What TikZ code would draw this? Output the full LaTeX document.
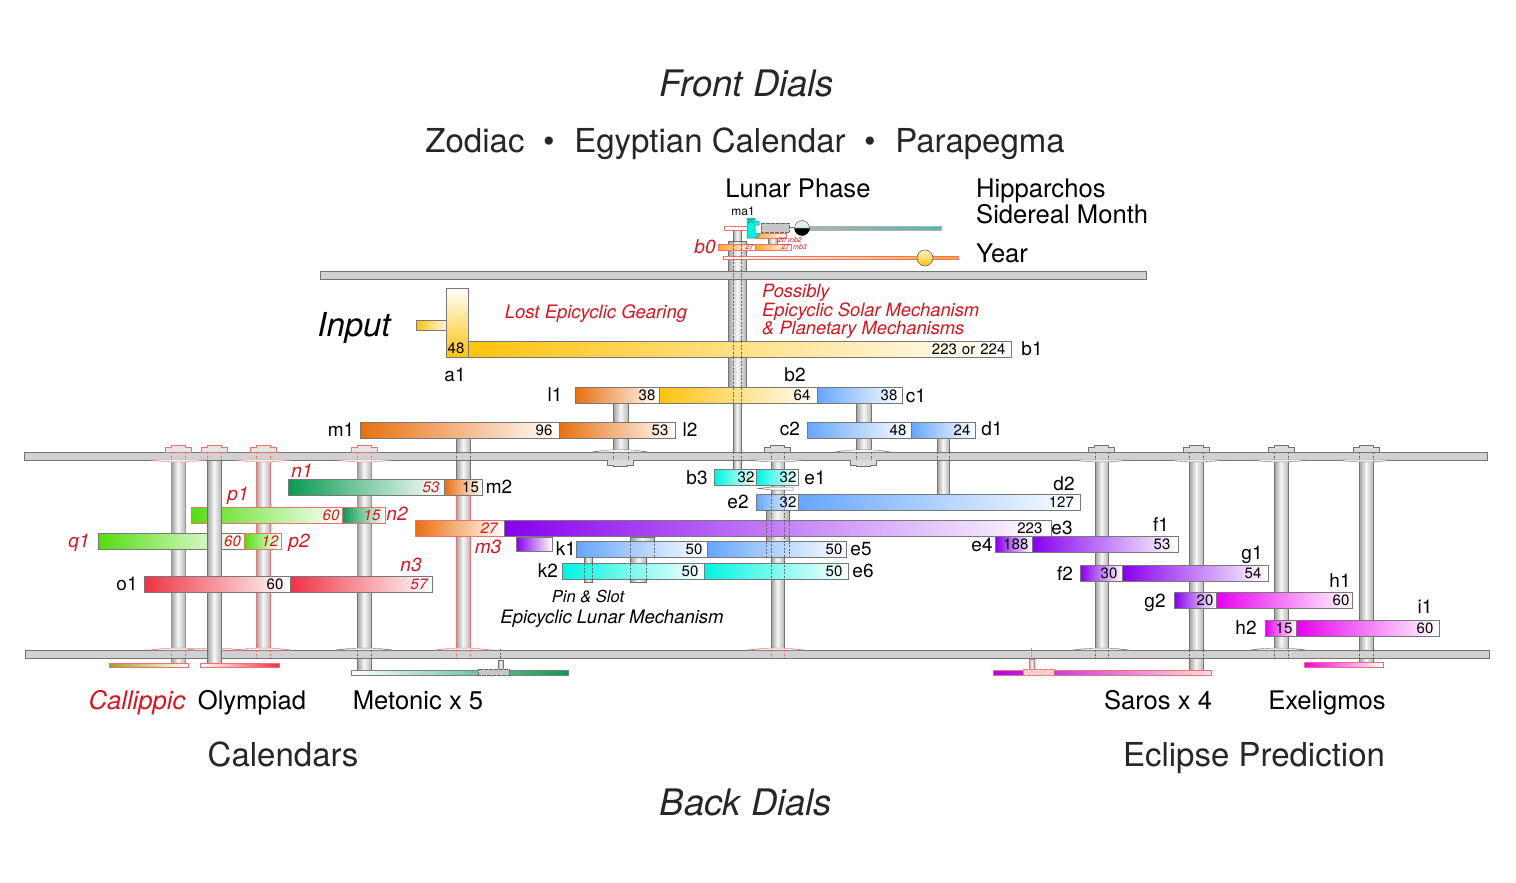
\documentclass[tikz,border=0pt]{standalone}
\usepackage{fontspec}
\setmainfont{TeX Gyre Heros}
\definecolor{gearorange}{HTML}{E8700F}
\definecolor{gearyellow}{HTML}{FFC20E}
\definecolor{gearblue}{HTML}{66A6FF}
\definecolor{gearcyan}{HTML}{00F5E0}
\definecolor{gearpurple}{HTML}{8800EE}
\definecolor{gearmagenta}{HTML}{E800F0}
\definecolor{geardgreen}{HTML}{0A9A50}
\definecolor{gearlgreen}{HTML}{55DD11}
\definecolor{gearred}{HTML}{EE3344}
\definecolor{redtext}{HTML}{D8141E}
\definecolor{edge}{HTML}{77777C}
\definecolor{rededge}{HTML}{EE7070}
\definecolor{rodteal}{HTML}{4FB8B0}
\definecolor{rodamber}{HTML}{FFA52A}
\definecolor{rodolive}{HTML}{9BA81E}
\tikzset{
  gear/.style n args={3}{anchor=west, rectangle, draw=edge, line width=0.7pt, minimum width=#1, minimum height=16, text width=#1-2*#3, inner xsep=0, inner ysep=0, align=right, text height=10.5, text depth=0, left color=#2, right color=white, font=\fontsize{15}{15}\selectfont, text=black},
  gearr/.style n args={3}{gear={#1}{#2}{#3}, draw=rededge, text=redtext, font=\fontsize{15}{15}\selectfont\itshape},
  lab/.style={font=\fontsize{19}{19}\selectfont, inner sep=0},
  labr/.style={font=\fontsize{19}{19}\selectfont\itshape, text=redtext, inner sep=0},
  dial/.style={font=\fontsize{25.6}{25.6}\selectfont, inner sep=0, anchor=base},
  head/.style={font=\fontsize{33}{33}\selectfont, text=black!85, inner sep=0, anchor=base},
  title/.style={font=\fontsize{36.5}{36.5}\selectfont\itshape, text=black!85, inner sep=0, anchor=base},
  note/.style={font=\fontsize{18.5}{18.5}\selectfont\itshape, inner sep=0, anchor=base},
  tiny/.style={font=\fontsize{7}{7}\selectfont\itshape, text=redtext, inner sep=0},
  plate/.style={draw=black!55, line width=0.7pt, fill=black!18},
  shaft/.style={draw=black!55, line width=0.6pt, left color=black!38, right color=black!28, middle color=black!3},
  shaftr/.style={shaft, draw=rededge},
  hidden/.style={draw=black!60, line width=0.5pt, dash pattern=on 2pt off 1.5pt},
  hiddenr/.style={draw=rededge, line width=0.5pt, dash pattern=on 2pt off 1.5pt},
  capg/.style={draw=black!55, line width=0.6pt, fill=black!14},
  capr/.style={draw=rededge, line width=0.6pt, fill=black!10},
  dialbar/.style={line width=0.6pt}
}
% lens under or over a plate, cap on top of a plate
\newcommand{\lens}[4]{\draw [#4, fill=white] (#1-28,#2) .. controls (#1-12,#2+#3) and (#1+12,#2+#3) .. (#1+28,#2) -- cycle;}
\newcommand{\capon}[2]{\draw [#2] (#1-13,452) -- (#1-13,447) -- (#1-7,447) -- (#1-7,445) -- (#1+7,445) -- (#1+7,447) -- (#1+13,447) -- (#1+13,452) -- cycle;}
\newcommand{\boss}[1]{\draw [capg] (#1-13,460) -- (#1-13,465) -- (#1-7,465) -- (#1-7,466.5) -- (#1+7,466.5) -- (#1+7,465) -- (#1+13,465) -- (#1+13,460);}
\newcommand{\through}[5]{\draw [#5] (#1,#3) -- (#1,#4); \draw [#5] (#2,#3) -- (#2,#4);}
\begin{document}
\begin{tikzpicture}[x=1pt,y=-1pt]
\useasboundingbox [fill=white] (0,0) rectangle (1516,883);

% shafts behind the gears
\draw [shaft] (733,230) rectangle (741,241);
\draw [shaft] (728,241) rectangle (746,341);
\draw [shaft] (728,357) rectangle (746,388);
\draw [shaft] (733,403) rectangle (741,470);
\draw [shaftr] (171,460) rectangle (185,664);
\draw [shaftr] (256,460) rectangle (270,650);
\draw [shaftr] (357,460) rectangle (371,580);
\draw [shaft] (357,580) rectangle (371,671);
\draw [shaft] (456,437) rectangle (470,480);
\draw [shaftr] (456,495) rectangle (470,650);
\draw [shaft] (613,403) rectangle (628,460);
\draw [shaft] (856,403) rectangle (871,460);
\draw [shaft] (937,437) rectangle (949,495);
\draw [shaft] (771,460) rectangle (784,650);
\draw [shaft] (766,510) rectangle (789,542);
\draw [shaft] (1095,460) rectangle (1108,650);
\draw [shaft] (1189,460) rectangle (1203,671);
\draw [shaft] (1274,460) rectangle (1288,650);
\draw [shaft] (1359,460) rectangle (1373,663);

% plates
\draw [plate] (320,271) rectangle (1146,279);
\draw [plate] (24,452) rectangle (1487,460);
\draw [plate] (25,650) rectangle (1489,658);

% caps and lenses
\capon{178}{capr}
\capon{214}{capr}
\capon{263}{capr}
\capon{364}{capr}
\capon{777}{capg}
\capon{1101}{capg}
\capon{1196}{capg}
\capon{1281}{capg}
\capon{1366}{capg}
\lens{178}{460}{2.5}{draw=rededge}
\lens{263}{460}{2.5}{draw=rededge}
\lens{364}{460}{2.5}{draw=rededge}
\lens{620}{452}{-3}{draw=black!55}
\lens{863}{452}{-3}{draw=black!55}
\lens{777}{460}{2.5}{draw=black!55}
\lens{1101}{460}{2.5}{draw=black!55}
\lens{1196}{460}{2.5}{draw=black!55}
\lens{1280}{460}{2.5}{draw=black!55}
\lens{1365}{460}{2.5}{draw=black!55}
\lens{178}{650}{-2.5}{draw=rededge}
\lens{214}{650}{-2.5}{draw=rededge}
\lens{263}{650}{-2.5}{draw=rededge}
\lens{364}{650}{-2.5}{draw=black!55}
\lens{463}{650}{-2.5}{draw=rededge}
\lens{776}{650}{-2.5}{draw=rededge}
\lens{1101}{650}{-2.5}{draw=black!55}
\lens{1278}{650}{-2.5}{draw=black!55}
\boss{620}
\boss{863}
\through{171}{185}{452}{460}{hiddenr}
\through{207}{221}{452}{460}{hiddenr}
\through{256}{270}{452}{460}{hiddenr}
\through{357}{371}{452}{460}{hiddenr}
\through{456}{470}{452}{460}{hidden}
\through{613}{628}{452}{460}{hidden}
\through{856}{871}{452}{460}{hidden}
\through{937}{949}{452}{460}{hidden}
\through{733}{741}{452}{470}{hidden}
\through{771}{784}{452}{460}{hidden}
\through{1095}{1108}{452}{460}{hidden}
\through{1189}{1203}{452}{460}{hidden}
\through{1274}{1288}{452}{460}{hidden}
\through{1359}{1373}{452}{460}{hidden}
\through{171}{185}{650}{658}{hiddenr}
\through{207}{221}{650}{658}{hidden}
\through{256}{270}{650}{658}{hiddenr}
\through{357}{371}{650}{658}{hidden}
\through{456}{470}{650}{658}{hiddenr}
\through{771}{784}{650}{658}{hiddenr}
\through{1095}{1108}{650}{658}{hidden}
\through{1189}{1203}{650}{658}{hidden}
\through{1274}{1288}{650}{658}{hidden}
\through{1359}{1373}{650}{658}{hidden}

% front mechanism
\draw [shaft] (768,238) rectangle (777,244);
\draw [dialbar, draw=rededge, fill=white] (724,226) rectangle (747,230);
\draw [dialbar, draw=black!30, left color=black!30, right color=rodteal] (808,226) rectangle (941,230);
\node [gearr={37}{rodamber}{2}, minimum height=6, text height=4, font=\fontsize{7}{7}\selectfont\itshape] at (718,247) (b0a) {27};
\node [gearr={36}{rodamber}{2}, minimum height=6, text height=4, font=\fontsize{7}{7}\selectfont\itshape] at (755,247) (b0b) {27};
\node [gearr={31}{rodamber}{1}, minimum height=5, text height=3] at (755,235.5) (mbtwo) {};
\draw [dialbar, draw=rededge, left color=white, right color=rodamber] (723,256) rectangle (958,259.5);
\draw [draw=black!60, line width=0.5pt, fill=gearcyan] (747,218) -- (755,218) -- (755,221) -- (759,221) -- (759,225) -- (755,225) -- (755,233) -- (759,233) -- (759,236) -- (755,238) -- (747,238) -- cycle;
\draw [draw=black!60, line width=0.6pt, fill=black!22, dash pattern=on 2pt off 0.5pt] (761,223) rectangle (789,232);
\draw [draw=black!60, line width=0.6pt] (789,227.5) -- (794,227.5);
\draw [draw=black, line width=0.5pt, fill=black] (794.5,228) arc (180:0:7.5) -- cycle;
\draw [draw=black!60, line width=0.5pt, fill=rodteal!20] (794.5,228) arc (180:360:7.5) -- cycle;
\node [circle, draw=black!60, line width=0.6pt, minimum size=16, inner sep=0, top color=gearyellow!25, bottom color=gearyellow] at (925,258) (sunball) {};
\node [font=\fontsize{6}{6}\selectfont, text=black!70, inner sep=0] at (751,221) (matwenty) {20};
\node [tiny] at (782,240) (numtwenty) {20};
\node [tiny] at (795,240) (mbb) {mb2};
\node [tiny] at (800,247) (mbc) {mb3};

% input and main drive
\node [rectangle, draw=edge, line width=0.7pt, minimum width=30, minimum height=10, inner sep=0, left color=gearyellow, right color=gearyellow!15] at (431,325) (stub) {};
\node [gear={22}{white}{2}, minimum height=69, top color=white, bottom color=gearyellow] at (446,322.5) (aone) {};
\node [gear={543}{gearyellow}{6}] at (468,349) (bone) {223 or 224};
\node [gear={84}{gearorange}{4}] at (575,395.5) (lone) {38};
\node [gear={158}{gearyellow}{7}] at (659,395.5) (btwo) {64};
\node [gear={85}{gearblue}{5}] at (817,395.5) (cone) {38};
\node [gear={199}{gearorange}{7}] at (360,430) (mone) {96};
\node [gear={116}{gearorange}{7}] at (559,430) (ltwo) {53};
\node [gear={104}{gearblue}{5}] at (807,430) (ctwo) {48};
\node [gear={64}{gearblue}{5}] at (911,430) (done) {24};
\node [font=\fontsize{15}{15}\selectfont, inner sep=0] at (456,348) (aonenum) {48};
\through{733}{741}{341}{357}{hidden}
\through{733}{741}{388}{403}{hidden}
\through{733}{741}{241}{341}{hidden}
\through{733}{741}{357}{388}{hidden}

% calendar gears
\node [gear={156}{geardgreen}{5}, text=redtext, font=\fontsize{15}{15}\selectfont\itshape] at (288,487.5) (none) {53};
\node [gear={38}{gearorange}{3.5}] at (444,487.5) (mtwo) {15};
\node [gearr={151}{gearlgreen}{3}] at (191,515) (pone) {60};
\node [gearr={43}{geardgreen}{5}] at (342,515) (ntwo) {15};
\node [gear={146}{gearlgreen}{3.5}, text=redtext, font=\fontsize{15}{15}\selectfont\itshape] at (98,541.5) (qone) {60};
\node [gearr={37}{gearlgreen}{3}] at (244,541.5) (ptwo) {12};
\draw [shaft] (207,460) rectangle (221,663);
\node [gear={146}{gearred}{7}] at (144,584.5) (oone) {60};
\node [gear={142}{gearred}{5}, text=redtext, font=\fontsize{15}{15}\selectfont\itshape] at (290,584.5) (nthree) {57};

% lunar gears
\node [gear={42}{gearcyan}{2}] at (714,477) (bthree) {32};
\node [gear={42}{gearcyan}{2}] at (756,477) (eone) {32};
\draw [draw=black!55, line width=0.5pt, fill=white] (758,488.5) -- (772,487) -- (793,487) -- (793,490) -- (772,490) -- cycle;
\node [gear={42}{gearblue}{2}] at (756,502.5) (etwo) {32};
\node [gear={282}{gearblue}{6.5}] at (798,502.5) (dtwo) {127};
\node [gearr={89}{gearorange}{7}] at (415,528.5) (mthree) {27};
\node [gear={547}{gearpurple}{9}] at (504,528.5) (ethree) {223};
\node [gear={36}{gearpurple}{2}, minimum height=14] at (516,544) (mfour) {};
\draw [shaft] (630,537) rectangle (654,542);
\draw [shaft] (584,557) rectangle (592,582);
\draw [shaft] (630,557) rectangle (646,582);
\node [gear={131}{gearblue}{5}] at (576,549.5) (kone) {50};
\node [gear={139}{gearblue}{4}] at (707,549.5) (efive) {50};
\node [gear={142}{gearcyan}{6}] at (562,571) (ktwo) {50};
\node [gear={144}{gearcyan}{6}] at (704,571) (esix) {50};
\through{771}{784}{495}{579}{hidden}
\through{766}{789}{510}{557}{hidden}
\through{630}{654}{537}{557}{hidden}
\through{584}{592}{557}{582}{hidden}
\through{630}{646}{557}{582}{hidden}

% eclipse gears
\node [gear={37}{gearpurple}{4}] at (995,544.5) (efour) {188};
\node [gear={146}{gearpurple}{8}] at (1032,544.5) (fone) {53};
\node [gear={42}{gearpurple}{5}] at (1080,573.5) (ftwo) {30};
\node [gear={146}{gearpurple}{7}] at (1122,573.5) (gone) {54};
\node [gear={42}{gearpurple}{3}] at (1174,600.5) (gtwo) {20};
\node [gear={136}{gearmagenta}{3}] at (1216,600.5) (hone) {60};
\node [gear={31}{gearmagenta}{4}] at (1265,628) (htwo) {15};
\node [gear={143}{gearmagenta}{6}] at (1296,628) (ione) {60};

% back dials
\draw [dialbar, draw=rededge, left color=rodolive, right color=white] (109,663) rectangle (188,667);
\draw [dialbar, draw=rededge, left color=white, right color=gearred] (200,663) rectangle (279,667);
\draw [dialbar, draw=black!50, left color=white, right color=geardgreen] (351,670) rectangle (568,675);
\draw [shaft] (498,660) rectangle (503,669);
\draw [draw=black!60, line width=0.5pt, fill=black!22, dash pattern=on 2pt off 0.5pt] (478,669) rectangle (509,675.5);
\draw [hidden] (500.5,649) -- (500.5,660);
\draw [dialbar, draw=rededge, left color=gearpurple!60!gearmagenta, right color=pink!60] (993,670) rectangle (1211,675);
\draw [shaftr] (1029,659) rectangle (1034,669);
\draw [draw=rededge, line width=0.6pt, fill=red!20, dash pattern=on 2pt off 0.5pt] (1023,669) rectangle (1054,675.5);
\draw [hiddenr] (1031.5,648) -- (1031.5,659);
\draw [dialbar, draw=rededge, left color=gearmagenta, right color=white] (1304,662.5) rectangle (1383,667);

% gear names
\node [lab] at (455,375) (laba) {a1};
\node [lab] at (1032,349) (labb) {b1};
\node [lab] at (555,395) (labl) {l1};
\node [lab] at (795,375) (labbt) {b2};
\node [lab] at (916,396) (labc) {c1};
\node [lab] at (341,430) (labm) {m1};
\node [lab] at (690,430) (lablt) {l2};
\node [lab] at (790,429) (labct) {c2};
\node [lab] at (992,429) (labd) {d1};
\node [labr] at (302,471) (labn) {n1};
\node [lab] at (499,487) (labmt) {m2};
\node [labr] at (238,496) (labp) {p1};
\node [labr] at (397,514) (labnt) {n2};
\node [labr] at (79,543) (labq) {q1};
\node [labr] at (299,543) (labpt) {p2};
\node [lab] at (127,584) (labo) {o1};
\node [labr] at (411,565) (labnth) {n3};
\node [lab] at (697,478) (labbth) {b3};
\node [lab] at (815,478) (labe) {e1};
\node [lab] at (738,502) (labet) {e2};
\node [lab] at (1064,484) (labdt) {d2};
\node [lab] at (1062,528) (labeth) {e3};
\node [labr] at (488,547) (labmth) {m3};
\node [lab] at (566,549) (labk) {k1};
\node [lab] at (861,549) (labef) {e5};
\node [lab] at (548,571) (labkt) {k2};
\node [lab] at (863,571) (labes) {e6};
\node [lab] at (982,545) (labefo) {e4};
\node [lab] at (1161,525) (labf) {f1};
\node [lab] at (1065,574) (labft) {f2};
\node [lab] at (1252,555) (labg) {g1};
\node [lab] at (1155,603) (labgt) {g2};
\node [lab] at (1340,581) (labh) {h1};
\node [lab] at (1246,628) (labht) {h2};
\node [lab] at (1425,607) (labi) {i1};
\node [labr] at (705,247) (labbz) {b0};
\node [font=\fontsize{12}{12}\selectfont, inner sep=0] at (743,211) (labma) {ma1};

% headings and notes
\node [title] at (747,96) (front) {Front Dials};
\node [head] at (475,152) (zodiac) {Zodiac};
\node [head] at (549,152) (dota) {\textbullet};
\node [head] at (710,152) (egypt) {Egyptian Calendar};
\node [head] at (870,152) (dotb) {\textbullet};
\node [head] at (980,152) (para) {Parapegma};
\node [dial] at (798,197) (lunar) {Lunar Phase};
\node [inner sep=0, align=left, anchor=north west, font=\fontsize{25.6}{26}\selectfont] at (976,179) (hipp) {Hipparchos\\Sidereal Month};
\node [dial, anchor=base west] at (976,262) (year) {Year};
\node [font=\fontsize{33}{33}\selectfont\itshape, inner sep=0, anchor=base] at (354,336) (input) {Input};
\node [note, text=redtext] at (596,318) (lost) {Lost Epicyclic Gearing};
\node [text=redtext, inner sep=0, align=left, anchor=north west, font=\fontsize{18.3}{18.7}\selectfont\itshape] at (762,284) (solar) {Possibly\\Epicyclic Solar Mechanism\\\& Planetary Mechanisms};
\node [note, font=\fontsize{16.5}{16.5}\selectfont\itshape] at (588,602) (pin) {Pin \& Slot};
\node [note] at (612,623) (lunmech) {Epicyclic Lunar Mechanism};
\node [dial, font=\fontsize{25.6}{25.6}\selectfont\itshape, text=redtext] at (137,709) (callip) {Callippic};
\node [dial] at (252,709) (olymp) {Olympiad};
\node [dial] at (418,709) (meton) {Metonic x 5};
\node [dial] at (1158,709) (saros) {Saros x 4};
\node [dial] at (1327,709) (exel) {Exeligmos};
\node [head] at (283,766) (calend) {Calendars};
\node [head] at (1254,766) (eclipse) {Eclipse Prediction};
\node [title] at (746,815) (back) {Back Dials};
\end{tikzpicture}
\end{document}
